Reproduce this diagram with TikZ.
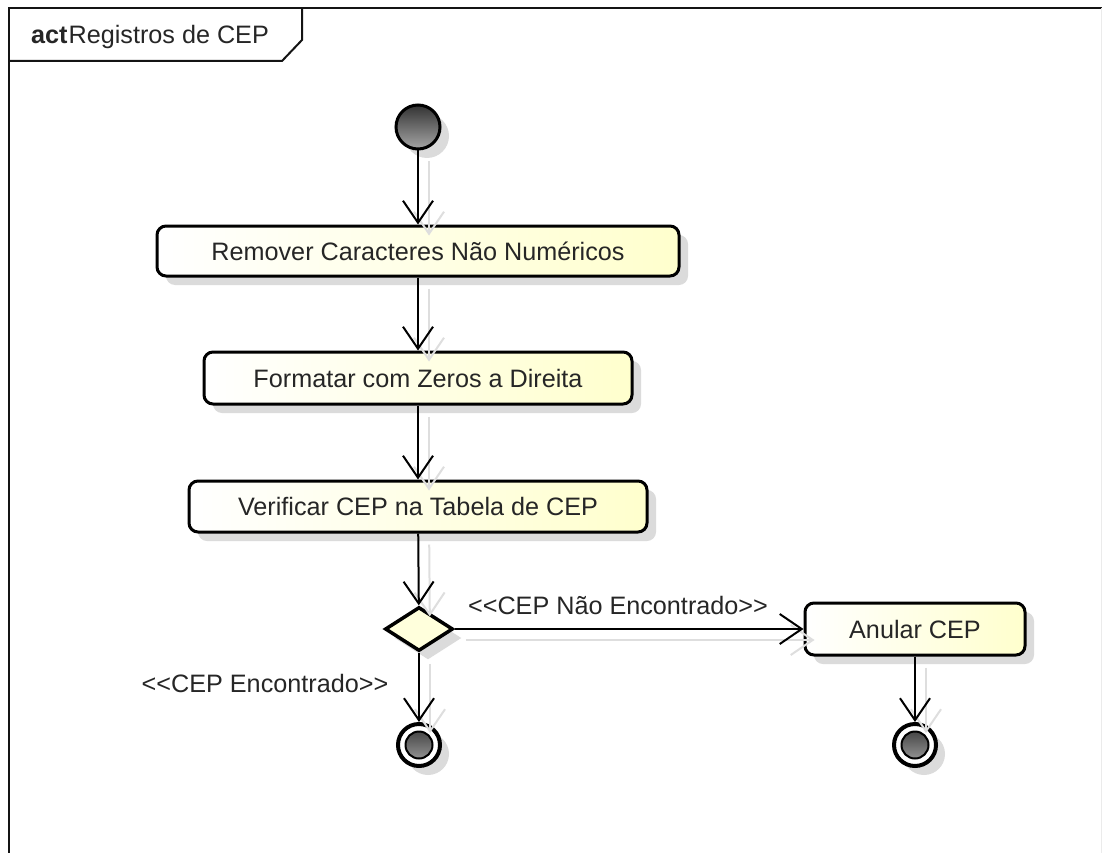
\documentclass[tikz,border=0pt]{standalone}
\usepackage{fontspec}
\setmainfont{Liberation Sans}
\usetikzlibrary{arrows.meta,shapes.geometric,shadows}

\definecolor{actyellow}{RGB}{255,255,205}
\definecolor{decyellow}{RGB}{255,255,220}
\definecolor{frameline}{RGB}{20,20,20}

\tikzset{
  txt/.style={font=\fontsize{25.2}{29}\selectfont, text=black!85},
  boxshadow/.style={drop shadow={shadow xshift=9pt, shadow yshift=-9pt, fill=black!14, opacity=1}},
  actionbox/.style={txt, draw=black, line width=3pt, rounded corners=9pt,
    left color=white, right color=actyellow, inner sep=0pt, boxshadow},
  decision/.style={diamond, draw=black, line width=3.5pt, fill=decyellow,
    minimum width=68pt, minimum height=44pt, inner sep=0pt, boxshadow},
  startnode/.style={circle, draw=black, line width=3pt, minimum size=44pt, inner sep=0pt,
    top color=black!80, bottom color=black!35, boxshadow},
  endnode/.style={circle, draw=black, line width=4pt, minimum size=42pt, inner sep=0pt,
    fill=white, boxshadow,
    path picture={\shade[top color=black!80, bottom color=black!35, draw=black, line width=2pt]
      (path picture bounding box.center) circle (13.5pt);}},
  flow/.style={draw=black, line width=2pt,
    -{Straight Barb[length=22pt, width=30pt, line width=2pt]}},
  flowshadow/.style={draw=black!13, line width=2pt,
    -{Straight Barb[length=22pt, width=30pt, line width=2pt]},
    transform canvas={xshift=11pt, yshift=-11pt}},
  guard/.style={txt, inner sep=0pt}
}

\begin{document}
\begin{tikzpicture}[x=1pt, y=-1pt]
  \useasboundingbox (0,0) rectangle (1102,853);

  % diagram frame and its name tab
  \draw[frameline, line width=2pt] (9,853) -- (9,8) -- (1102,8);
  \draw[black!8, line width=1pt] (1101,8) -- (1101,853);
  \draw[frameline, line width=2pt] (9,61) -- (282,61) -- (302,40) -- (302,8);
  \node[txt, anchor=west, inner sep=0pt] (title) at (31,37)
    {\textbf{act}\hspace{1pt}Registros de CEP};

  % nodes
  \node[startnode] (start) at (418,127) {};
  \node[actionbox, minimum width=522pt, minimum height=50pt] (a1) at (418,251)
    {Remover Caracteres Não Numéricos};
  \node[actionbox, minimum width=428pt, minimum height=52pt] (a2) at (418,378)
    {Formatar com Zeros a Direita};
  \node[actionbox, minimum width=458pt, minimum height=51pt] (a3) at (418,506.5)
    {Verificar CEP na Tabela de CEP};
  \node[decision] (dec) at (419,629) {};
  \node[actionbox, minimum width=220pt, minimum height=52pt] (anular) at (915,629)
    {Anular CEP};
  \node[endnode] (end1) at (419,745) {};
  \node[endnode] (end2) at (915,745) {};

  % faint connector shadows
  \draw[flowshadow] (start) -- (a1);
  \draw[flowshadow] (a1) -- (a2);
  \draw[flowshadow] (a2) -- (a3);
  \draw[flowshadow] (a3) -- (dec);
  \draw[flowshadow] (dec) -- (anular);
  \draw[flowshadow] (dec) -- (end1);
  \draw[flowshadow] (anular) -- (end2);

  % connectors
  \draw[flow] (start) -- (a1);
  \draw[flow] (a1) -- (a2);
  \draw[flow] (a2) -- (a3);
  \draw[flow] (a3) -- (dec);
  \draw[flow] (dec) -- (anular);
  \draw[flow] (dec) -- (end1);
  \draw[flow] (anular) -- (end2);

  % guard labels
  \node[guard] (gno) at (618,605) {{<}{<}CEP Não Encontrado{>}{>}};
  \node[guard] (gyes) at (265,683) {{<}{<}CEP Encontrado{>}{>}};
\end{tikzpicture}
\end{document}
